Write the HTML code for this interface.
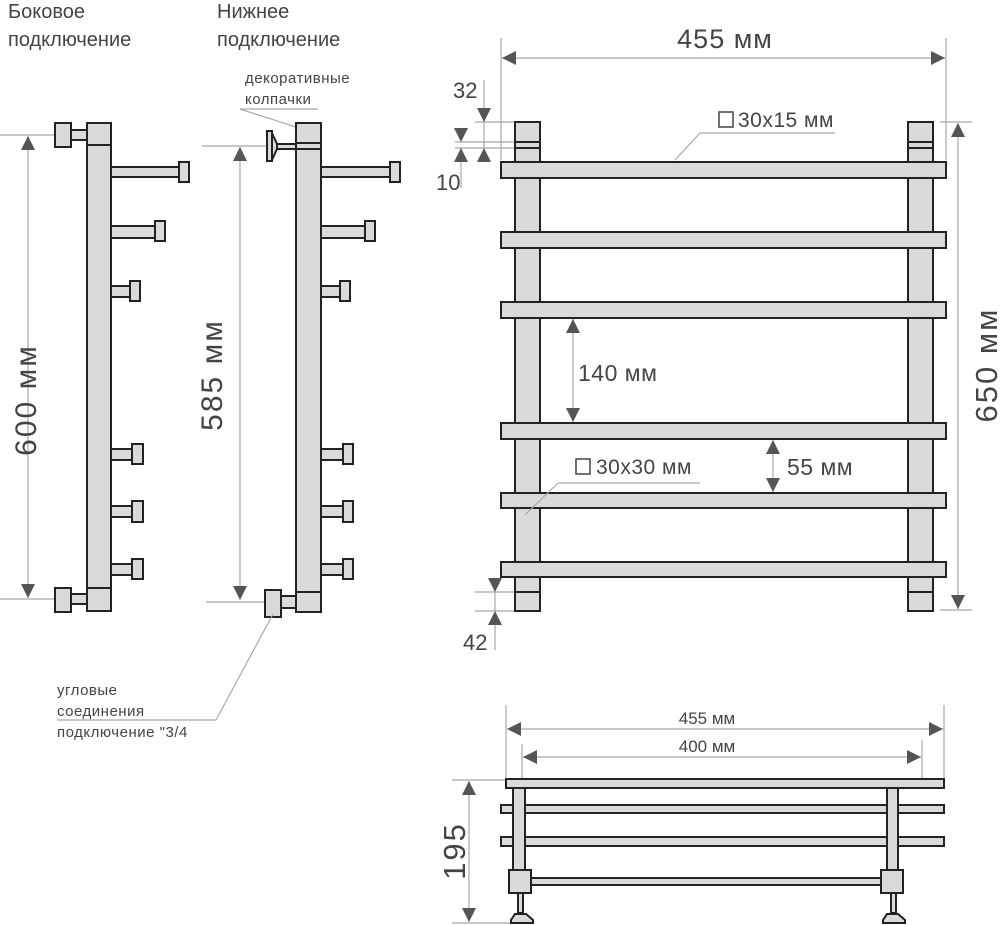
<!DOCTYPE html>
<html><head><meta charset="utf-8"><style>
html,body{margin:0;padding:0;background:#fff}
svg{display:block}
text{font-family:"Liberation Sans",sans-serif;fill:#444}
.p{fill:#d9dbda;stroke:#222;stroke-width:2}
.d{stroke:#a8a8a8;stroke-width:1.2;fill:none}
.a{fill:#555}
</style></head><body>
<svg width="1000" height="925" viewBox="0 0 1000 925" xmlns="http://www.w3.org/2000/svg">
<defs>
<g id="au"><polygon class="a" points="0,0 -7,14 7,14"/></g>
<g id="ad"><polygon class="a" points="0,0 -7,-14 7,-14"/></g>
<g id="al"><polygon class="a" points="0,0 14,-7 14,7"/></g>
<g id="ar"><polygon class="a" points="0,0 -14,-7 -14,7"/></g>
</defs>

<!-- headings -->
<text x="8" y="18" font-size="20" fill="#333">Боковое</text>
<text x="8" y="46" font-size="20" fill="#333">подключение</text>
<text x="217" y="18" font-size="20" fill="#333">Нижнее</text>
<text x="217" y="46" font-size="20" fill="#333">подключение</text>

<!-- LEFT SIDE VIEW -->
<line class="d" x1="0" y1="135" x2="87" y2="135"/>
<line class="d" x1="0" y1="599" x2="87" y2="599"/>
<line class="d" x1="28" y1="136" x2="28" y2="598"/>
<use href="#au" x="28" y="136"/><use href="#ad" x="28" y="598"/>
<text transform="translate(36,400) rotate(-90)" font-size="30" letter-spacing="2" text-anchor="middle">600 мм</text>
<rect class="p" x="71" y="130" width="16" height="10"/>
<rect class="p" x="55" y="123" width="16" height="24"/>
<rect class="p" x="71" y="594" width="16" height="10"/>
<rect class="p" x="55" y="588" width="16" height="24"/>
<rect class="p" x="111" y="167" width="70" height="10"/><rect class="p" x="179" y="162" width="10" height="20"/>
<rect class="p" x="111" y="226" width="46" height="12"/><rect class="p" x="155" y="221" width="10" height="20"/>
<rect class="p" x="111" y="286" width="21" height="11"/><rect class="p" x="130" y="281" width="10" height="20"/>
<rect class="p" x="111" y="449" width="23" height="11"/><rect class="p" x="132" y="444" width="11" height="20"/>
<rect class="p" x="111" y="506" width="23" height="11"/><rect class="p" x="132" y="501" width="11" height="21"/>
<rect class="p" x="111" y="564" width="23" height="11"/><rect class="p" x="132" y="559" width="11" height="20"/>
<rect class="p" x="87" y="123" width="24" height="488"/>
<line x1="87" y1="145" x2="111" y2="145" stroke="#222" stroke-width="2"/>
<line x1="87" y1="588" x2="111" y2="588" stroke="#222" stroke-width="2"/>

<!-- BOTTOM CONNECTION VIEW -->
<text x="245" y="83" font-size="15" letter-spacing="0.5">декоративные</text>
<text x="245" y="104" font-size="15" letter-spacing="0.5">колпачки</text>
<line class="d" x1="240" y1="109" x2="318" y2="109"/>
<line class="d" x1="240" y1="109" x2="305" y2="130"/>
<line class="d" x1="202" y1="146" x2="296" y2="146"/>
<line class="d" x1="206" y1="602" x2="296" y2="602"/>
<line class="d" x1="240" y1="147" x2="240" y2="600"/>
<use href="#au" x="240" y="147"/><use href="#ad" x="240" y="600"/>
<text transform="translate(222,375) rotate(-90)" font-size="30" letter-spacing="2" text-anchor="middle">585 мм</text>
<rect class="p" x="277" y="144" width="19" height="5"/>
<polygon class="p" points="272,133 277,144 277,149 272,160"/>
<rect class="p" x="267" y="131" width="5" height="30"/>
<rect class="p" x="281" y="596" width="15" height="12"/>
<rect class="p" x="265" y="590" width="16" height="27"/>
<rect class="p" x="321" y="167" width="70" height="10"/><rect class="p" x="390" y="162" width="10" height="20"/>
<rect class="p" x="321" y="226" width="46" height="12"/><rect class="p" x="365" y="221" width="10" height="20"/>
<rect class="p" x="321" y="286" width="21" height="11"/><rect class="p" x="340" y="281" width="10" height="20"/>
<rect class="p" x="321" y="449" width="23" height="11"/><rect class="p" x="343" y="444" width="10" height="20"/>
<rect class="p" x="321" y="506" width="23" height="11"/><rect class="p" x="343" y="501" width="10" height="21"/>
<rect class="p" x="321" y="564" width="23" height="11"/><rect class="p" x="343" y="559" width="10" height="20"/>
<rect class="p" x="296" y="123" width="25" height="489"/>
<line x1="296" y1="143" x2="321" y2="143" stroke="#222" stroke-width="2"/>
<line x1="296" y1="149" x2="321" y2="149" stroke="#222" stroke-width="2"/>
<line x1="296" y1="592" x2="321" y2="592" stroke="#222" stroke-width="2"/>
<line class="d" x1="57" y1="720" x2="216" y2="720"/>
<line class="d" x1="216" y1="720" x2="273" y2="614"/>
<text x="57" y="695" font-size="15" letter-spacing="0.5">угловые</text>
<text x="57" y="716" font-size="15" letter-spacing="0.5">соединения</text>
<text x="57" y="737" font-size="15" letter-spacing="0.5">подключение "3/4</text>

<!-- FRONT VIEW -->
<line class="d" x1="501" y1="38" x2="501" y2="160"/>
<line class="d" x1="946" y1="38" x2="946" y2="160"/>
<line class="d" x1="502" y1="58" x2="945" y2="58"/>
<use href="#al" x="502" y="58"/><use href="#ar" x="945" y="58"/>
<text x="725" y="48" font-size="27" letter-spacing="1" text-anchor="middle">455 мм</text>
<line class="d" x1="940" y1="122" x2="972" y2="122"/>
<line class="d" x1="940" y1="610" x2="972" y2="610"/>
<line class="d" x1="958" y1="123" x2="958" y2="609"/>
<use href="#au" x="958" y="123"/><use href="#ad" x="958" y="609"/>
<text transform="translate(997,365) rotate(-90)" font-size="31" letter-spacing="2" text-anchor="middle">650 мм</text>
<line class="d" x1="475" y1="122" x2="515" y2="122"/>
<line class="d" x1="455" y1="142" x2="515" y2="142"/>
<line class="d" x1="455" y1="148" x2="515" y2="148"/>
<line class="d" x1="484" y1="80" x2="484" y2="158"/>
<use href="#ad" x="484" y="122"/><use href="#au" x="484" y="148"/>
<line class="d" x1="461" y1="148" x2="461" y2="188"/>
<use href="#ad" x="461" y="142"/><use href="#au" x="461" y="148"/>
<text x="453" y="98" font-size="22">32</text>
<text x="436" y="190" font-size="22">10</text>
<line class="d" x1="475" y1="592" x2="515" y2="592"/>
<line class="d" x1="475" y1="611" x2="515" y2="611"/>
<line class="d" x1="495" y1="578" x2="495" y2="650"/>
<use href="#ad" x="495" y="592"/><use href="#au" x="495" y="611"/>
<text x="463" y="650" font-size="22">42</text>
<rect class="p" x="515" y="122" width="25" height="489"/>
<rect class="p" x="908" y="122" width="25" height="489"/>
<line x1="515" y1="142" x2="540" y2="142" stroke="#222" stroke-width="2"/>
<line x1="515" y1="148" x2="540" y2="148" stroke="#222" stroke-width="2"/>
<line x1="908" y1="142" x2="933" y2="142" stroke="#222" stroke-width="2"/>
<line x1="908" y1="148" x2="933" y2="148" stroke="#222" stroke-width="2"/>
<line x1="515" y1="592" x2="540" y2="592" stroke="#222" stroke-width="2"/>
<line x1="908" y1="592" x2="933" y2="592" stroke="#222" stroke-width="2"/>
<rect class="p" x="501" y="162" width="445" height="16"/>
<rect class="p" x="501" y="232" width="445" height="16"/>
<rect class="p" x="501" y="302" width="445" height="16"/>
<rect class="p" x="501" y="423" width="445" height="16"/>
<rect class="p" x="501" y="493" width="445" height="15"/>
<rect class="p" x="501" y="562" width="445" height="15"/>
<rect x="719" y="112" width="14" height="15" fill="none" stroke="#444" stroke-width="1.5"/>
<text x="738" y="127" font-size="21" letter-spacing="0.5">30х15 мм</text>
<line class="d" x1="700" y1="133" x2="835" y2="133"/>
<line class="d" x1="700" y1="133" x2="675" y2="160"/>
<line class="d" x1="573" y1="319" x2="573" y2="422"/>
<use href="#au" x="573" y="319"/><use href="#ad" x="573" y="422"/>
<text x="578" y="381" font-size="23" letter-spacing="0.5">140 мм</text>
<line class="d" x1="773" y1="440" x2="773" y2="492"/>
<use href="#au" x="773" y="440"/><use href="#ad" x="773" y="492"/>
<text x="787" y="475" font-size="23" letter-spacing="0.5">55 мм</text>
<rect x="576" y="459" width="14" height="15" fill="none" stroke="#444" stroke-width="1.5"/>
<text x="596" y="474" font-size="21" letter-spacing="0.5">30х30 мм</text>
<line class="d" x1="558" y1="483" x2="700" y2="483"/>
<line class="d" x1="558" y1="483" x2="525" y2="515"/>

<!-- TOP VIEW -->
<line class="d" x1="506" y1="705" x2="506" y2="779"/>
<line class="d" x1="944" y1="705" x2="944" y2="779"/>
<line class="d" x1="522" y1="744" x2="522" y2="779"/>
<line class="d" x1="922" y1="740" x2="922" y2="779"/>
<line class="d" x1="507" y1="729" x2="943" y2="729"/>
<use href="#al" x="507" y="729"/><use href="#ar" x="943" y="729"/>
<text x="707" y="724" font-size="17" text-anchor="middle">455 мм</text>
<line class="d" x1="523" y1="757" x2="921" y2="757"/>
<use href="#al" x="523" y="757"/><use href="#ar" x="921" y="757"/>
<text x="707" y="752" font-size="17" text-anchor="middle">400 мм</text>
<line class="d" x1="452" y1="780" x2="506" y2="780"/>
<line class="d" x1="452" y1="923" x2="510" y2="923"/>
<line class="d" x1="469" y1="781" x2="469" y2="922"/>
<use href="#au" x="469" y="781"/><use href="#ad" x="469" y="922"/>
<text transform="translate(465,851) rotate(-90)" font-size="31" letter-spacing="2" text-anchor="middle">195</text>
<rect class="p" x="501" y="805" width="443" height="8"/>
<rect class="p" x="501" y="837" width="443" height="9"/>
<rect class="p" x="513" y="788" width="12" height="82"/>
<rect class="p" x="887" y="788" width="11" height="82"/>
<rect class="p" x="506" y="779" width="438" height="9"/>
<rect class="p" x="530" y="878" width="352" height="7"/>
<rect class="p" x="518" y="893" width="5" height="20"/>
<rect class="p" x="891" y="893" width="5" height="20"/>
<polygon class="p" points="511,920 515,914 526,914 533,920 533,923 511,923"/>
<polygon class="p" points="883,920 887,914 898,914 905,920 905,923 883,923"/>
<rect class="p" x="509" y="870" width="22" height="23"/>
<rect class="p" x="881" y="870" width="22" height="23"/>
</svg>
</body></html>
